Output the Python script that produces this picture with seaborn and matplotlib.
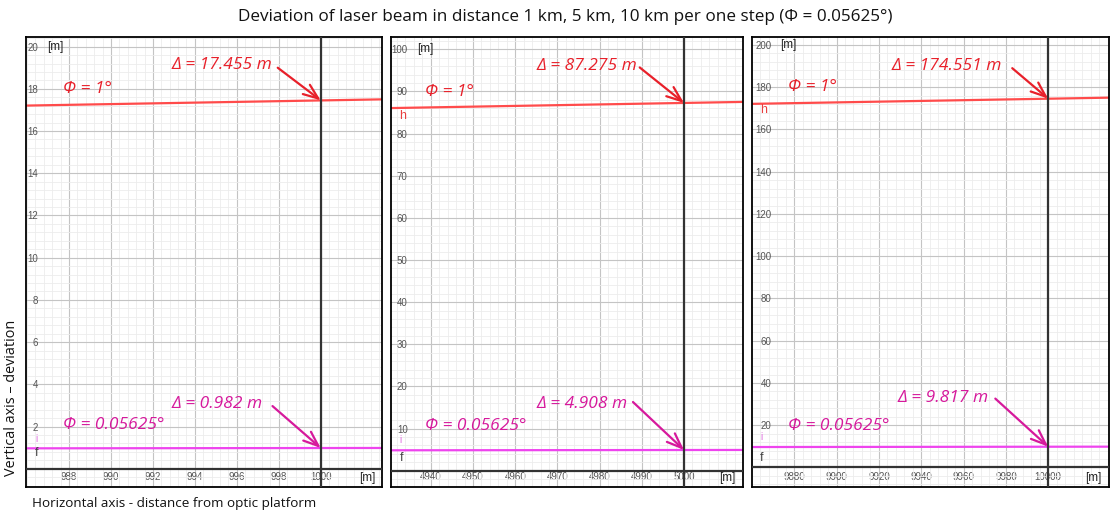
import numpy as np
import pandas as pd
import seaborn as sns
import matplotlib.pyplot as plt
from matplotlib.ticker import MultipleLocator

# data
distances = [1000, 5000, 10000]
delta_1deg = [17.455, 87.275, 174.551]
delta_step = [0.982, 4.908, 9.817]
phi_labels = ['Φ = 1°', 'Φ = 0.05625°']

# beam lines, two end points per panel
line_x = [[985, 1004], [4930, 5015], [9860, 10030]]
red_y = [[17.19, 17.52], [86.05, 87.54], [172.11, 175.07]]
mag_y = [[0.967, 0.986], [4.84, 4.92], [9.68, 9.85]]

x_ticks = [list(range(988, 1001, 2)), list(range(4940, 5001, 10)), list(range(9880, 10001, 20))]
y_ticks = [list(range(2, 21, 2)), list(range(10, 101, 10)), list(range(20, 201, 20))]

# layout of the three panels (pixels)
panel_px = [(26, 356), (390.7, 352.3), (752.3, 356.7)]
xlims = [(985.95, 1002.92), (4930.5, 5013.97), (9860.2, 10028.7)]
ylims = [(-0.85, 20.47), (-3.8, 103.0), (-9.1, 203.9)]
ylab_pad = [12, 17, 19]
show_h = [False, True, True]

# annotation positions (data coords)
phi_red_pos = [(987.73, 18.0), (4938.65, 89.8), (9877.2, 180)]
phi_mag_pos = [(987.73, 2.08), (4938.65, 10.6), (9877.2, 19.4)]
dred_pos = [(992.9, 19.15), (4965.0, 96.0), (9926, 190)]
dmag_pos = [(992.9, 3.07), (4965.0, 15.8), (9929, 33)]
ared_start = [(997.95, 19.0), (4989.5, 95.7), (9983, 189)]
amag_start = [(997.7, 2.97), (4987.9, 16.3), (9975, 32.6)]
lbl_x = [986.38, 4932.6, 9863.8]
h_y = [None, 84.2, 169]
i_y = [1.4, 7.4, 14.3]
f_y = [0.75, 3.1, 4.3]

red_line = '#ff4b4b'
red_text = '#e8202a'
mag_line = '#ee44ee'
mag_text = '#d6199c'

sns.set_theme(style='white')
plt.rcParams['font.family'] = ['Liberation Sans', 'DejaVu Sans']

W, H = 1111, 513
fig = plt.figure(figsize=(W / 100, H / 100), dpi=100)
top, bottom = 36.7, 486.7

for k in range(3):
    left, width = panel_px[k]
    ax = fig.add_axes([left / W, 1 - bottom / H, width / W, (bottom - top) / H])

    xs = line_x[k]
    sns.lineplot(x=xs, y=red_y[k], ax=ax, color=red_line, lw=1.6)
    sns.lineplot(x=xs, y=mag_y[k], ax=ax, color=mag_line, lw=1.6)

    ax.axvline(distances[k], color='#333333', lw=1.6, zorder=3)
    ax.axhline(0, color='#333333', lw=1.6, zorder=3)

    ax.set_xlim(*xlims[k])
    ax.set_ylim(*ylims[k])
    xstep = x_ticks[k][1] - x_ticks[k][0]
    ystep = y_ticks[k][1] - y_ticks[k][0]
    ax.set_xticks(x_ticks[k])
    ax.set_yticks(y_ticks[k])
    ax.xaxis.set_minor_locator(MultipleLocator(xstep / 5))
    ax.yaxis.set_minor_locator(MultipleLocator(ystep / 5))
    ax.grid(which='major', color='#c4c4c4', lw=0.8, zorder=0)
    ax.grid(which='minor', color='#ececec', lw=0.6, zorder=0)
    ax.set_axisbelow(True)

    ax.tick_params(axis='both', which='both', direction='in', length=0)
    ax.tick_params(axis='x', pad=-10.5, labelsize=7, labelcolor='#555555')
    ax.tick_params(axis='y', pad=-ylab_pad[k] * 0.72, labelsize=7, labelcolor='#555555')
    for lab in ax.get_yticklabels():
        lab.set_horizontalalignment('right')

    for sp in ax.spines.values():
        sp.set_color('black')
        sp.set_linewidth(1.3)
    ax.set_xlabel('')
    ax.set_ylabel('')

    # unit labels
    ax.annotate('[m]', xy=(0, y_ticks[k][-1]), xycoords=('axes fraction', 'data'),
                xytext=(ylab_pad[k] + 9, 0), textcoords='offset pixels',
                ha='left', va='center', fontsize=8.5, color='#222222')
    ax.annotate('[m]', xy=(1, 0), xycoords='axes fraction',
                xytext=(-7, 9), textcoords='offset pixels',
                ha='right', va='center', fontsize=8.5, color='#222222')

    # beam labels
    afont = dict(family=['Open Sans', 'DejaVu Sans'], style='italic', fontsize=12.5)
    ax.text(*phi_red_pos[k], phi_labels[0], color=red_text, ha='left', va='center', **afont)
    ax.text(*phi_mag_pos[k], phi_labels[1], color=mag_text, ha='left', va='center', **afont)
    ax.text(*dred_pos[k], f'Δ = {delta_1deg[k]:.3f} m', color=red_text, ha='left', va='center', **afont)
    ax.text(*dmag_pos[k], f'Δ = {delta_step[k]:.3f} m', color=mag_text, ha='left', va='center', **afont)

    ax.annotate('', xy=(distances[k], delta_1deg[k]), xytext=ared_start[k],
                arrowprops=dict(arrowstyle='->,head_length=0.9,head_width=0.35',
                                color=red_text, lw=1.6, shrinkA=0, shrinkB=0), zorder=5)
    ax.annotate('', xy=(distances[k], delta_step[k]), xytext=amag_start[k],
                arrowprops=dict(arrowstyle='->,head_length=0.9,head_width=0.35',
                                color=mag_text, lw=1.6, shrinkA=0, shrinkB=0), zorder=5)

    # small object labels
    if show_h[k]:
        ax.text(lbl_x[k], h_y[k], 'h', color='#e84040', fontsize=9, ha='left', va='center')
    ax.text(lbl_x[k], i_y[k], 'i', color='#e070e0', fontsize=7, ha='left', va='center')
    ax.text(lbl_x[k], f_y[k], 'f', color='#444444', fontsize=9, ha='left', va='center')

tfont = ['Open Sans', 'DejaVu Sans']
fig.text(565 / W, 1 - 17 / H,
         'Deviation of laser beam in distance 1 km, 5 km, 10 km per one step (Φ = 0.05625°)',
         ha='center', va='center', fontsize=12.3, family=tfont, color='#111111')
fig.text(12 / W, 1 - 398 / H, 'Vertical axis – deviation', rotation=90,
         ha='center', va='center', fontsize=10.4, family=tfont, color='#111111')
fig.text(32 / W, 1 - 503 / H, 'Horizontal axis - distance from optic platform',
         ha='left', va='center', fontsize=9.7, family=tfont, color='#111111')

fig.savefig('out.png', dpi=100)
